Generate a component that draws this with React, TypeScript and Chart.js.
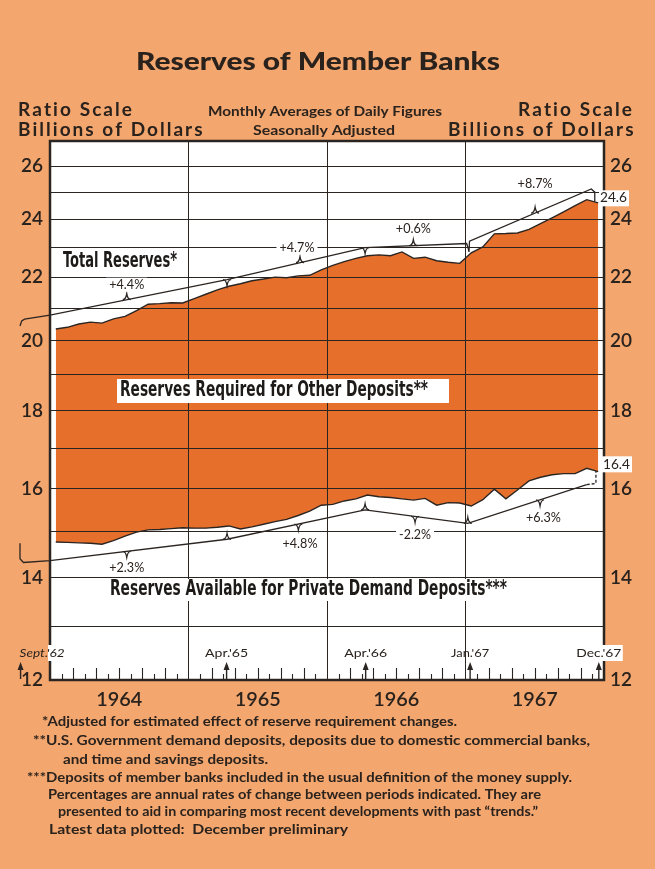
import React, { useEffect, useRef } from 'react';
import { Chart, registerables } from 'chart.js';

Chart.register(...registerables);

// ---------- categories ----------
const years = ['1964', '1965', '1966', '1967'];
const monthNames = ['Jan', 'Feb', 'Mar', 'Apr', 'May', 'Jun', 'Jul', 'Aug', 'Sep', 'Oct', 'Nov', 'Dec'];
const months = years.flatMap((y) => monthNames.map((m) => `${m} ${y}`));

// ---------- monthly series, billions of dollars ----------
const totalReserves = [
  20.35, 20.4, 20.5, 20.56, 20.53, 20.66, 20.74, 20.92, 21.12, 21.14, 21.17, 21.16,
  21.3, 21.44, 21.58, 21.7, 21.78, 21.88, 21.94, 22.0, 21.98, 22.04, 22.06, 22.24,
  22.39, 22.52, 22.63, 22.72, 22.75, 22.72, 22.85, 22.63, 22.67, 22.55, 22.5, 22.46,
  22.82, 23.02, 23.48, 23.49, 23.51, 23.64, 23.84, 24.05, 24.27, 24.5, 24.72, 24.6,
];
const availableReserves = [
  14.77, 14.76, 14.75, 14.74, 14.72, 14.8, 14.9, 14.99, 15.04, 15.05, 15.07, 15.09,
  15.08, 15.08, 15.1, 15.13, 15.06, 15.11, 15.17, 15.23, 15.28, 15.37, 15.47, 15.61,
  15.63, 15.71, 15.76, 15.85, 15.81, 15.79, 15.76, 15.73, 15.77, 15.61, 15.67, 15.66,
  15.59, 15.74, 15.99, 15.76, 15.97, 16.19, 16.28, 16.34, 16.37, 16.37, 16.5, 16.42,
];

// ---------- trend lines (x in months from Jan 1964) ----------
const totalTrendX = [-2.6, -2.45, -2.2, 0, 15.34, 27.3, 36.1, 36.25, 36.3, 36.35, 46.9, 47.2, 47.2];
const totalTrendY = [20.44, 20.6, 20.65, 20.78, 21.92, 23.0, 23.14, 22.95, 22.85, 23.22, 25.12, 25.0, 24.65];
const availTrendX = [-2.6, -2.6, -2.3, 0, 15.34, 27.3, 36.2, 46.5];
const availTrendY = [14.74, 14.4, 14.32, 14.36, 14.83, 15.5, 15.19, 16.1];
const availBracketX = [46.5, 47.3, 47.3];
const availBracketY = [16.1, 16.13, 16.5];

const totalNotchX = [6.65, 15.34, 21.66, 27.3, 31.48, 42.03];
const totalNotchDir = [-1, 1, -1, 1, -1, -1];
const availNotchX = [6.65, 15.34, 21.52, 27.3, 31.63, 36.2, 42.46];
const availNotchDir = [1, -1, 1, -1, 1, -1, 1];

const pctLabels = ['+4.4%', '+4.7%', '+0.6%', '+8.7%', '+2.3%', '+4.8%', '-2.2%', '+6.3%'];
const pctX = [6.65, 21.4, 31.48, 42.03, 6.65, 21.66, 31.63, 42.75];
const pctY = [21.75, 23.0, 23.67, 25.31, 14.21, 14.72, 14.93, 15.31];

const endLabels = ['24.6', '16.4'];
const endY = [24.77, 16.6];

const markerLabels = ["Sept.'62", "Apr.'65", "Apr.'66", "Jan.'67", "Dec.'67"];
const markerX = [-2.55, 15.3, 27.35, 36.4, 47.55];

const yTickValues = [12, 13, 14, 15, 16, 17, 18, 19, 20, 21, 22, 23, 24, 25, 26];
const yTickLabels = ['12', '', '14', '', '16', '', '18', '', '20', '', '22', '', '24', '', '26'];
const xGridValues = [0, 12, 24, 36, 48];

// ---------- style ----------
const BG = '#F3A66E';
const FILL = '#E76F2C';
const INK = '#2a221d';
const LINE = '#2b2522';
const FUT = "Lato, 'Noto Sans', 'DejaVu Sans', sans-serif";
const COND = "'Liberation Sans Narrow', 'DejaVu Sans Condensed', 'Liberation Sans', sans-serif";

function fitText(
  ctx: CanvasRenderingContext2D,
  text: string,
  x: number,
  y: number,
  width: number,
  font: string,
  align: 'left' | 'center' | 'right',
  color: string,
  spacing = false
) {
  ctx.save();
  ctx.font = font;
  ctx.fillStyle = color;
  ctx.textBaseline = 'middle';
  ctx.textAlign = 'left';
  const w0 = ctx.measureText(text).width;
  const left = align === 'left' ? x : align === 'center' ? x - width / 2 : x - width;
  if (!spacing) {
    ctx.translate(left, y);
    ctx.scale(width / w0, 1);
    ctx.fillText(text, 0, 0);
  } else {
    const chars = Array.from(text);
    const extra = chars.length > 1 ? (width - w0) / (chars.length - 1) : 0;
    let cx = left;
    for (const ch of chars) {
      ctx.fillText(ch, cx, y);
      cx += ctx.measureText(ch).width + extra;
    }
  }
  ctx.restore();
}

export default function App() {
  const ref = useRef<HTMLCanvasElement>(null);

  useEffect(() => {
    document.body.style.margin = '0';
    const canvas = ref.current!;
    const pts = (xa: number[], ya: number[]) => xa.map((x, i) => ({ x, y: ya[i] }));
    const monthX = months.map((_, i) => i + 0.5);

    const decor = {
      id: 'decor',
      beforeDraw(chart: any) {
        const { ctx, chartArea: ca } = chart;
        ctx.save();
        ctx.fillStyle = '#ffffff';
        ctx.fillRect(ca.left, ca.top, ca.right - ca.left, ca.bottom - ca.top);
        ctx.restore();
      },
      afterDraw(chart: any) {
        const { ctx, chartArea: ca, scales } = chart;
        const X = (v: number) => scales.x.getPixelForValue(v);
        const Y = (v: number) => scales.y.getPixelForValue(v);
        ctx.save();
        ctx.strokeStyle = LINE;
        ctx.fillStyle = LINE;

        // notches on trend lines
        const yAt = (dsIndex: number, px: number) => {
          const els = chart.getDatasetMeta(dsIndex).data as any[];
          for (let i = 0; i < els.length - 1; i++) {
            const a = els[i], b = els[i + 1];
            if (b.x > a.x && px >= a.x && px <= b.x) {
              return a.y + ((b.y - a.y) * (px - a.x)) / (b.x - a.x);
            }
          }
          return els[els.length - 1].y;
        };
        const notch = (dsIndex: number, xv: number[], dirs: number[]) => {
          ctx.lineWidth = 1.3;
          xv.forEach((v, i) => {
            const px = X(v);
            const py = yAt(dsIndex, px);
            ctx.beginPath();
            ctx.moveTo(px - 4, py);
            ctx.quadraticCurveTo(px - 1, py, px, py + dirs[i] * 6);
            ctx.quadraticCurveTo(px + 1, py, px + 4, py);
            ctx.stroke();
          });
        };
        notch(2, totalNotchX, totalNotchDir);
        notch(3, availNotchX, availNotchDir);

        // frame
        ctx.lineWidth = 2.5;
        ctx.strokeRect(ca.left, ca.top, ca.right - ca.left, ca.bottom - ca.top);

        // monthly ticks along bottom
        ctx.lineWidth = 1.1;
        for (let m = 1; m < 48; m++) {
          if (m % 12 === 0) continue;
          const h = m % 2 === 1 ? 6 : 12;
          const px = Math.round(X(m)) + 0.5;
          ctx.beginPath();
          ctx.moveTo(px, ca.bottom);
          ctx.lineTo(px, ca.bottom - h);
          ctx.stroke();
        }

        // date markers with arrows
        markerX.forEach((v, i) => {
          const px = X(v);
          const base = ca.bottom - 1;
          ctx.lineWidth = 1.4;
          ctx.beginPath();
          ctx.moveTo(px, base);
          ctx.lineTo(px, base - 11);
          ctx.stroke();
          ctx.beginPath();
          ctx.moveTo(px, base - 17);
          ctx.lineTo(px - 3, base - 9);
          ctx.lineTo(px + 3, base - 9);
          ctx.closePath();
          ctx.fill();
          const ty = ca.bottom - 27;
          if (i === 0) {
            ctx.fillStyle = '#ffffff';
            ctx.fillRect(ca.left - 2, ty - 8, 5, 16);
            ctx.fillStyle = LINE;
            fitText(ctx, markerLabels[i], px - 1, ty, 45, `italic 12px ${FUT}`, 'left', INK);
          } else if (i === markerX.length - 1) {
            ctx.fillStyle = '#ffffff';
            ctx.fillRect(px - 4, ty - 8, 28, 16);
            ctx.fillStyle = LINE;
            fitText(ctx, markerLabels[i], px, ty, 45, `12px ${FUT}`, 'center', INK);
          } else {
            fitText(ctx, markerLabels[i], px, ty, i === 3 ? 38 : 43, `12px ${FUT}`, 'center', INK);
          }
        });

        // percentage labels with white boxes
        pctLabels.forEach((t, i) => {
          const px = X(pctX[i]);
          const py = Y(pctY[i]);
          const w = t.startsWith('-') ? 32 : 35;
          ctx.fillStyle = '#ffffff';
          ctx.fillRect(px - w / 2 - 3, py - 7, w + 6, 14);
          fitText(ctx, t, px, py, w, `13px ${FUT}`, 'center', INK);
        });

        // end values
        endLabels.forEach((t, i) => {
          const py = Y(endY[i]);
          const lx = ca.right - (i === 0 ? 4 : 1);
          ctx.fillStyle = '#ffffff';
          ctx.fillRect(lx - 1, py - 8, 30, 16);
          fitText(ctx, t, lx, py, 27, `13px ${FUT}`, 'left', INK);
        });

        // series labels
        const bold = `bold 21px ${COND}`;
        fitText(ctx, 'Total Reserves*', 63, 262, 114, bold, 'left', '#1d1a18');
        ctx.fillStyle = '#ffffff';
        ctx.fillRect(117, 379, 332, 24);
        fitText(ctx, 'Reserves Required for Other Deposits**', 120, 391, 308, bold, 'left', '#1d1a18');
        ctx.fillStyle = '#ffffff';
        ctx.fillRect(106, 579, 406, 22);
        fitText(ctx, 'Reserves Available for Private Demand Deposits***', 110, 590, 397, bold, 'left', '#1d1a18');

        // year labels
        years.forEach((yr, i) => {
          fitText(ctx, yr, X(6 + 12 * i), 700, 46, `600 19px ${FUT}`, 'center', INK);
        });

        // headings
        fitText(ctx, 'Reserves of Member Banks', 318, 62, 364, `900 25px ${FUT}`, 'center', INK);
        const hf = `bold 19px ${FUT}`;
        fitText(ctx, 'Ratio Scale', 18, 110, 114, hf, 'left', INK, true);
        fitText(ctx, 'Billions of Dollars', 18, 130, 184, hf, 'left', INK, true);
        fitText(ctx, 'Ratio Scale', 632, 110, 114, hf, 'right', INK, true);
        fitText(ctx, 'Billions of Dollars', 633, 130, 185, hf, 'right', INK, true);
        fitText(ctx, 'Monthly Averages of Daily Figures', 325, 111, 234, `bold 14px ${FUT}`, 'center', INK);
        fitText(ctx, 'Seasonally Adjusted', 324, 130, 142, `bold 14px ${FUT}`, 'center', INK);

        // footnotes
        const ff = `bold 14px ${FUT}`;
        const notes: [string, number, number, number][] = [
          ['*Adjusted for estimated effect of reserve requirement changes.', 42, 457, 721],
          ['**U.S. Government demand deposits, deposits due to domestic commercial banks,', 33, 590, 740],
          ['and time and savings deposits.', 63, 268, 759],
          ['***Deposits of member banks included in the usual definition of the money supply.', 27, 572, 777],
          ['Percentages are annual rates of change between periods indicated. They are', 48, 541, 794],
          ['presented to aid in comparing most recent developments with past \u201Ctrends.\u201D', 58, 538, 811],
          ['Latest data plotted:  December preliminary', 49, 348, 829],
        ];
        notes.forEach(([t, l, r, y]) => fitText(ctx, t, l, y, r - l, ff, 'left', INK));

        ctx.restore();
      },
    };

    const yScaleBase = {
      type: 'logarithmic' as const,
      min: 12,
      max: 27,
      afterBuildTicks: (s: any) => {
        s.ticks = yTickValues.map((v) => ({ value: v }));
      },
      border: { display: false },
    };

    const chart = new Chart(canvas, {
      type: 'line',
      data: {
        datasets: [
          {
            label: 'Total Reserves',
            data: pts(monthX, totalReserves),
            borderColor: LINE,
            borderWidth: 1.4,
            backgroundColor: FILL,
            fill: 1,
            pointRadius: 0,
            tension: 0,
          },
          {
            label: 'Reserves Available for Private Demand Deposits',
            data: pts(monthX, availableReserves),
            borderColor: LINE,
            borderWidth: 1.4,
            fill: false,
            pointRadius: 0,
            tension: 0,
            order: -1,
          },
          {
            label: 'Total Reserves trend',
            data: pts(totalTrendX, totalTrendY),
            borderColor: LINE,
            borderWidth: 1.3,
            fill: false,
            pointRadius: 0,
            tension: 0,
            clip: false,
          },
          {
            label: 'Available trend',
            data: pts(availTrendX, availTrendY),
            borderColor: LINE,
            borderWidth: 1.3,
            fill: false,
            pointRadius: 0,
            tension: 0,
            clip: false,
          },
          {
            label: 'Available latest',
            data: pts(availBracketX, availBracketY),
            borderColor: LINE,
            borderWidth: 1.3,
            borderDash: [3, 2],
            fill: false,
            pointRadius: 0,
            tension: 0,
            clip: false,
          },
        ] as any,
      },
      options: {
        animation: false,
        responsive: false,
        maintainAspectRatio: false,
        devicePixelRatio: 1,
        events: [],
        layout: { padding: { left: 0, right: 0, top: 141, bottom: 189 } },
        plugins: { legend: { display: false }, tooltip: { enabled: false }, title: { display: false } },
        scales: {
          x: {
            type: 'linear',
            bounds: 'data',
            grace: 0,
            afterDataLimits: (s: any) => {
              s.min = 0;
              s.max = 48;
            },
            afterBuildTicks: (s: any) => {
              s.min = 0;
              s.max = 48;
              s.ticks = xGridValues.map((v) => ({ value: v }));
            },
            afterFit: (s: any) => {
              s.height = 0;
            },
            ticks: { display: false },
            grid: { color: LINE, lineWidth: 1, drawTicks: false, z: 1 },
            border: { display: false },
          },
          y: {
            ...yScaleBase,
            position: 'left',
            afterFit: (s: any) => {
              s.width = 50;
            },
            ticks: {
              autoSkip: false,
              padding: 7,
              color: INK,
              font: { family: FUT, size: 19, weight: '600' },
              callback: (_v: any, i: number) => yTickLabels[i],
            },
            grid: { color: LINE, lineWidth: 1, drawTicks: false, z: 1 },
          },
          y2: {
            ...yScaleBase,
            position: 'right',
            afterFit: (s: any) => {
              s.width = 51;
            },
            ticks: {
              autoSkip: false,
              padding: 6,
              color: INK,
              font: { family: FUT, size: 19, weight: '600' },
              callback: (_v: any, i: number) => yTickLabels[i],
            },
            grid: { display: false, drawTicks: false },
          },
        } as any,
      },
      plugins: [decor],
    });

    return () => chart.destroy();
  }, []);

  return (
    <div style={{ position: 'relative', width: 655, height: 869, background: BG, overflow: 'hidden' }}>
      <canvas ref={ref} width={655} height={869} style={{ display: 'block' }} />
    </div>
  );
}
